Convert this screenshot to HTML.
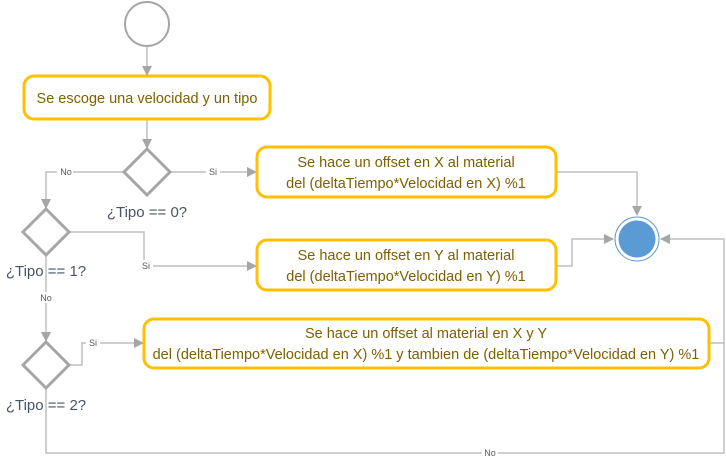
<!DOCTYPE html>
<html><head><meta charset="utf-8"><style>
body{margin:0;background:#fff}
svg{display:block}
.t{font-family:"Liberation Sans",sans-serif;font-size:14.5px;fill:#7f6000}
.d{font-family:"Liberation Sans",sans-serif;font-size:15px;fill:#4a5468}
.s{font-family:"Liberation Sans",sans-serif;font-size:9px;fill:#595959}
</style></head><body>
<svg width="726" height="464" viewBox="0 0 726 464">
<defs><marker id="a" markerWidth="10" markerHeight="10" refX="9" refY="5" orient="auto" markerUnits="userSpaceOnUse"><path d="M0,0 L10,5 L0,10z" fill="#a6a6a6"/></marker></defs>
<g fill="none" stroke="#bfbfbf" stroke-width="1.5">
<path d="M147,47 V75" marker-end="url(#a)"/>
<path d="M147,119 V148" marker-end="url(#a)"/>
<path d="M170,172 H256" marker-end="url(#a)"/>
<path d="M124,172 H46 V208" marker-end="url(#a)"/>
<path d="M69,232 H144 V266 H256" marker-end="url(#a)"/>
<path d="M46,255 V341" marker-end="url(#a)"/>
<path d="M69,365 H82 V343 H143" marker-end="url(#a)"/>
<path d="M46,388 V453 H724 V343"/>
<path d="M709,343 H724 V239 H661" marker-end="url(#a)"/>
<path d="M556,172 H637 V215" marker-end="url(#a)"/>
<path d="M556,266 H572 V239 H613" marker-end="url(#a)"/>
</g>
<circle cx="147" cy="24" r="22" fill="#fff" stroke="#a6a6a6" stroke-width="2"/>
<circle cx="637" cy="239" r="22" fill="#fff" stroke="#5b9bd5" stroke-width="1"/>
<circle cx="637" cy="239" r="18.5" fill="#5b9bd5"/>
<g fill="#fff" stroke="#a6a6a6" stroke-width="3">
<path d="M147,149 L170,172 L147,195 L124,172z"/>
<path d="M46,209 L69,232 L46,255 L23,232z"/>
<path d="M46,342 L69,365 L46,388 L23,365z"/>
</g>
<g fill="#fff" stroke="#ffc000" stroke-width="3">
<rect x="24" y="76" width="246" height="43" rx="10"/>
<rect x="257" y="147" width="299" height="50" rx="10"/>
<rect x="257" y="240" width="299" height="50" rx="10"/>
<rect x="144" y="319" width="565" height="49" rx="10"/>
</g>
<g text-anchor="middle">
<text class="t" x="147" y="103">Se escoge una velocidad y un tipo</text>
<text class="t" x="406" y="167">Se hace un offset en X al material</text>
<text class="t" x="406" y="188">del (deltaTiempo*Velocidad en X) %1</text>
<text class="t" x="406" y="260">Se hace un offset en Y al material</text>
<text class="t" x="406" y="281">del (deltaTiempo*Velocidad en Y) %1</text>
<text class="t" x="426" y="338">Se hace un offset al material en X y Y</text>
<text class="t" x="426" y="359">del (deltaTiempo*Velocidad en X) %1 y tambien de (deltaTiempo*Velocidad en Y) %1</text>
<text class="d" x="147" y="217">¿Tipo == 0?</text>
<text class="d" x="46" y="276">¿Tipo == 1?</text>
<text class="d" x="46" y="410">¿Tipo == 2?</text>
</g>
<g text-anchor="middle">
<rect x="57" y="166" width="16" height="11" fill="#fff"/><text class="s" x="66" y="175">No</text>
<rect x="206" y="166" width="14" height="11" fill="#fff"/><text class="s" x="213" y="175">Si</text>
<rect x="139" y="260" width="14" height="11" fill="#fff"/><text class="s" x="146" y="269">Si</text>
<rect x="38" y="292" width="16" height="11" fill="#fff"/><text class="s" x="46" y="301">No</text>
<rect x="86" y="337" width="14" height="11" fill="#fff"/><text class="s" x="93" y="346">Si</text>
<rect x="482" y="447" width="16" height="11" fill="#fff"/><text class="s" x="490" y="456">No</text>
</g>
</svg>
</body></html>
